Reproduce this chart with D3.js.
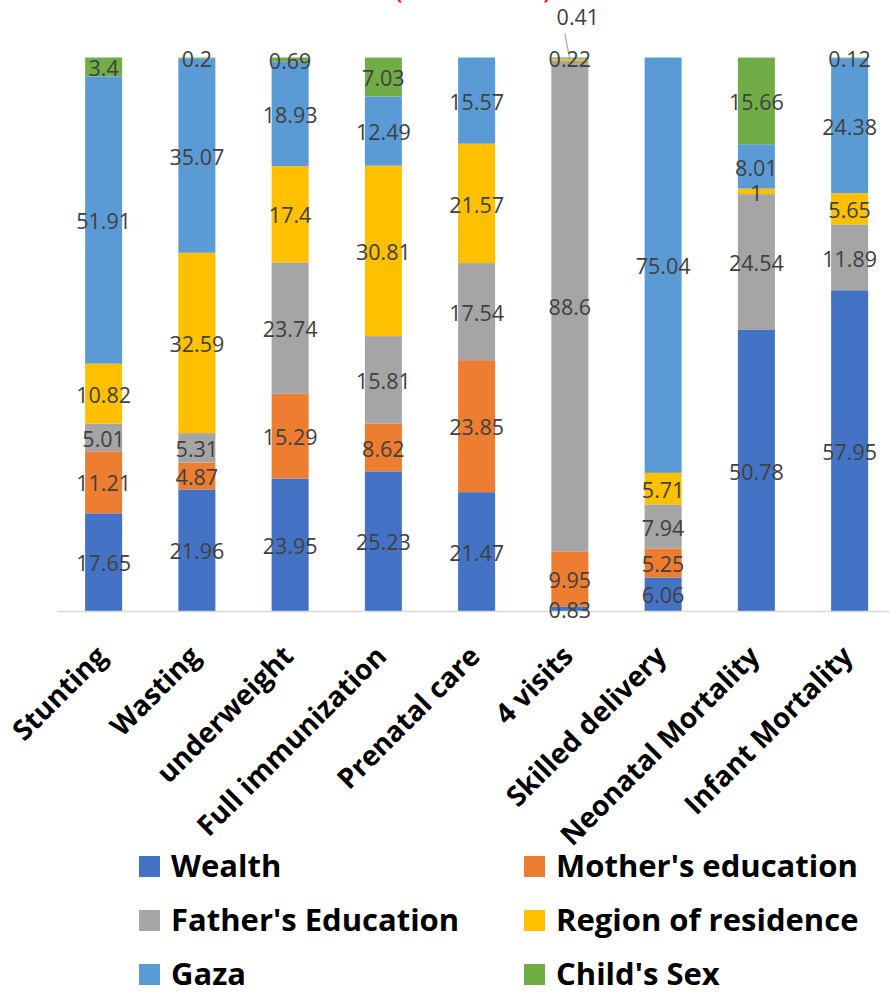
<!DOCTYPE html>
<html>
<head>
<meta charset="utf-8">
<script src="https://cdn.jsdelivr.net/npm/d3@7"></script>
<style>
  html, body { margin: 0; padding: 0; background: #ffffff; }
  svg { display: block; }
</style>
</head>
<body>
<svg id="chart" width="890" height="992"></svg>
<script>
// Share of inequality explained by each factor (%), per health outcome
const categories = ["Stunting", "Wasting", "underweight", "Full immunization", "Prenatal care",
                    "4 visits", "Skilled delivery", "Neonatal Mortality", "Infant Mortality"];
const seriesNames = ["Wealth", "Mother's education", "Father's Education",
                     "Region of residence", "Gaza", "Child's Sex"];
const seriesColors = ["#4472C4", "#ED7D31", "#A5A5A5", "#FFC000", "#5B9BD5", "#70AD47"];

const wealth            = [17.65, 21.96, 23.95, 25.23, 21.47, 0.83,  6.06, 50.78, 57.95];
const motherEducation   = [11.21,  4.87, 15.29,  8.62, 23.85, 9.95,  5.25,  null,  null];
const fatherEducation   = [ 5.01,  5.31, 23.74, 15.81, 17.54, 88.6,  7.94, 24.54, 11.89];
const regionOfResidence = [10.82, 32.59, 17.4,  30.81, 21.57, 0.41,  5.71,  1,     5.65];
const gaza              = [51.91, 35.07, 18.93, 12.49, 15.57, 0.22, 75.04,  8.01, 24.38];
const childSex          = [ 3.4,   0.2,   0.69,  7.03,  null, null,  null, 15.66,  0.12];

// Labels drawn outside the bar with a leader line
const calloutLabels = [{ category: "4 visits", series: "Region of residence" }];

const seriesValues = [wealth, motherEducation, fatherEducation, regionOfResidence, gaza, childSex];

const rows = categories.map((c, i) => {
  const r = { category: c };
  seriesNames.forEach((s, j) => { r[s] = seriesValues[j][i]; });
  return r;
});

const svg = d3.select("#chart");

const x = d3.scaleBand()
  .domain(categories)
  .range([57, 896.25])
  .paddingInner(0.603)
  .paddingOuter(0.3015);

const y = d3.scaleLinear().domain([0, 100]).range([611, 57.5]);

const stack = d3.stack()
  .keys(seriesNames)
  .value((d, k) => d[k] == null ? 0 : d[k]);
const layers = stack(rows);

const color = d3.scaleOrdinal().domain(seriesNames).range(seriesColors);

// Cut-off heading above the plot
const head = svg.append("g").attr("fill", "#ff0000")
  .style("font-family", "'Open Sans', sans-serif").style("font-size", "30px");
head.append("text").attr("x", 394).attr("y", -2).text("(");
head.append("text").attr("x", 543).attr("y", -2).text(")");

// Stacked bars
const layerG = svg.append("g").selectAll("g")
  .data(layers)
  .join("g")
  .attr("fill", d => color(d.key));

layerG.selectAll("rect")
  .data(d => d.map(p => ({ key: d.key, p })))
  .join("rect")
  .attr("x", d => x(d.p.data.category))
  .attr("width", x.bandwidth())
  .attr("y", d => y(d.p[1]))
  .attr("height", d => Math.max(0, y(d.p[0]) - y(d.p[1])));

// Category axis
const axis = svg.append("g")
  .attr("transform", `translate(0,${y(0)})`)
  .call(d3.axisBottom(x).tickSize(0));
axis.select(".domain")
  .attr("stroke", "#d9d9d9")
  .attr("stroke-width", 1.5)
  .attr("d", `M57,0.5H890`);
axis.selectAll(".tick text")
  .attr("x", 0).attr("y", 0).attr("dy", 0)
  .attr("text-anchor", "end")
  .attr("transform", "translate(5,47) rotate(-45)")
  .attr("fill", "#000000")
  .style("font-family", "'Open Sans', sans-serif")
  .style("font-weight", "700")
  .style("font-size", "28px");

// Value labels
const labelFont = 21.5;
const labels = svg.append("g")
  .attr("fill", "#404040")
  .style("font-family", "'Open Sans', sans-serif")
  .style("font-size", labelFont + "px")
  .attr("text-anchor", "middle");

const isCallout = (cat, key) => calloutLabels.some(c => c.category === cat && c.series === key);

layers.forEach(layer => {
  layer.forEach(p => {
    const v = p.data[layer.key];
    if (v == null) return;
    const cx = x(p.data.category) + x.bandwidth() / 2;
    const mid = (y(p[0]) + y(p[1])) / 2;
    if (isCallout(p.data.category, layer.key)) {
      const top = y(100);
      labels.append("line")
        .attr("x1", cx - 5).attr("y1", top - 24)
        .attr("x2", cx).attr("y2", mid)
        .attr("stroke", "#a6a6a6").attr("stroke-width", 1.2);
      labels.append("text")
        .attr("x", cx + 8).attr("y", top - 33)
        .text(String(v));
    } else {
      labels.append("text")
        .attr("x", cx)
        .attr("y", mid + 0.357 * labelFont + 1.5)
        .text(String(v));
    }
  });
});

// Legend
const legend = svg.append("g")
  .style("font-family", "'Open Sans', sans-serif")
  .style("font-weight", "700")
  .style("font-size", "31px");
const legX = [139, 524], legY = [877, 931, 985];
seriesNames.forEach((s, i) => {
  const g = legend.append("g")
    .attr("transform", `translate(${legX[i % 2]},${legY[Math.floor(i / 2)]})`);
  g.append("rect").attr("x", 0).attr("y", -21).attr("width", 21).attr("height", 21)
    .attr("fill", color(s));
  g.append("text").attr("x", 32).attr("y", 0).attr("fill", "#000000").text(s);
});
</script>
</body>
</html>
